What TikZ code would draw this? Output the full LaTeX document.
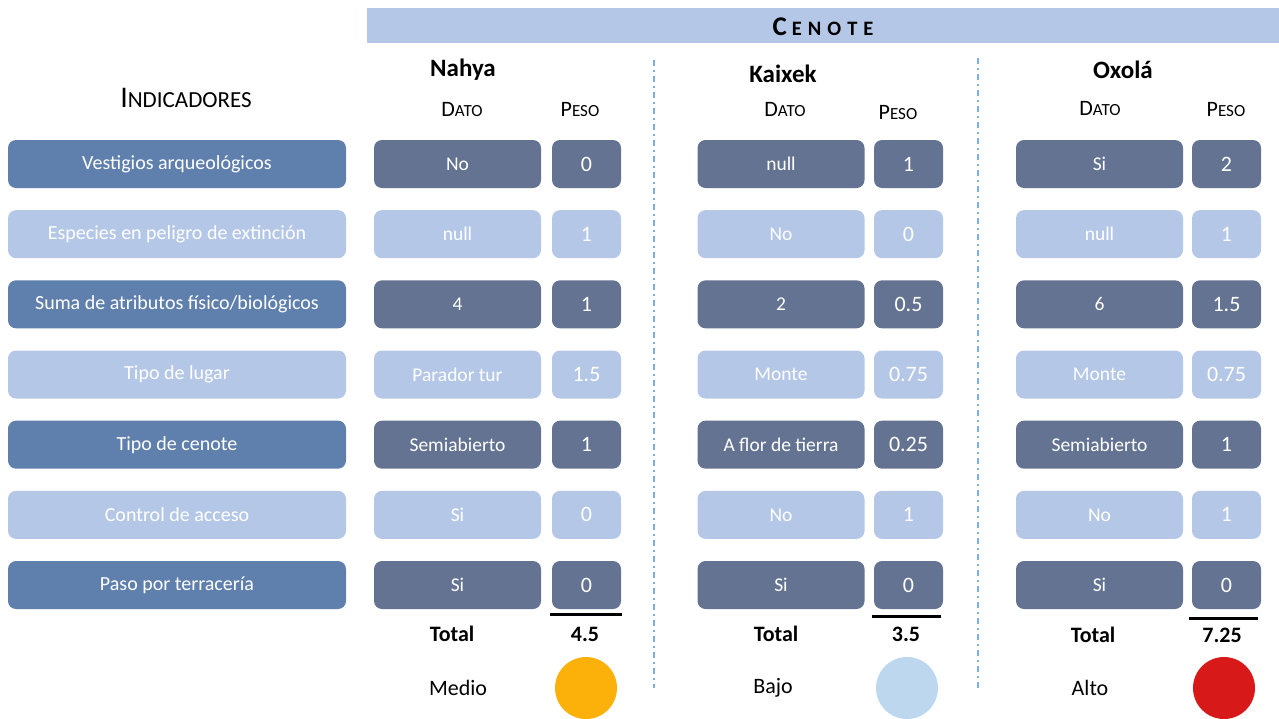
\documentclass[tikz,border=0pt]{standalone}
\usepackage{fontspec}
\setmainfont{Carlito}
\usetikzlibrary{calc}
\definecolor{inddark}{RGB}{95,127,173}
\definecolor{datdark}{RGB}{99,115,145}
\definecolor{lightbl}{RGB}{180,199,231}
\definecolor{sepblue}{RGB}{91,155,213}
\definecolor{cmedio}{RGB}{251,176,10}
\definecolor{cbajo}{RGB}{189,215,238}
\definecolor{calto}{RGB}{215,25,26}
\newcommand{\fs}[1]{\fontsize{#1}{#1}\selectfont}
\newcommand{\tabrow}[9]{%
  \pgfmathsetmacro\yy{164+70.17*(#1-1)}
  \node[indbox, fill=ind#2] (ind#1) at (177,\yy) {#3};
  \node[datbox, fill=dat#2] (na#1d) at (457.5,\yy) {#4};
  \node[pesbox, fill=dat#2] (na#1p) at (586.5,\yy) {#5};
  \node[datbox, fill=dat#2] (ka#1d) at (781,\yy) {#6};
  \node[pesbox, fill=dat#2] (ka#1p) at (908.5,\yy) {#7};
  \node[datbox, fill=dat#2] (ox#1d) at (1099.5,\yy) {#8};
  \node[pesbox, fill=dat#2] (ox#1p) at (1226.5,\yy) {#9};
}
\colorlet{inddk}{inddark}
\colorlet{indlt}{lightbl}
\colorlet{datdk}{datdark}
\colorlet{datlt}{lightbl}
\begin{document}
\begin{tikzpicture}[x=1pt,y=-1pt,
  box/.style={rounded corners=8pt, inner sep=0pt, minimum height=48pt, text=white, draw=none},
  indbox/.style={box, minimum width=338pt, font=\fs{20}},
  datbox/.style={box, minimum width=167pt, font=\fs{19.5}},
  pesbox/.style={box, minimum width=69pt, font=\fs{22}},
  hdr/.style={inner sep=0pt, font=\fs{22}},
  namelbl/.style={inner sep=0pt, font=\bfseries\fs{25}},
  totlbl/.style={inner sep=0pt, font=\bfseries\fs{22}},
  ratelbl/.style={inner sep=0pt, font=\fs{22}},
  sepline/.style={draw=sepblue!80, line width=1.1pt, dash pattern=on 6pt off 4pt on 2pt off 4pt},
  totline/.style={line width=2.6pt, black},
  dot/.style={circle, inner sep=0pt, minimum size=62pt, draw=none}
]
\useasboundingbox (0,0) rectangle (1279,718);
% header bar
\fill[lightbl] (367,8) rectangle (1279,43);
\node[inner sep=0pt, font=\bfseries\fs{27}] (cenote) at (823,27)
  {C\hspace{5pt}{\fs{20.5}E\hspace{6pt}N\hspace{6pt}O\hspace{6pt}T\hspace{6pt}E}};
% column headings
\node[hdr, font=\fs{30}] (indic) at (186,98) {I{\fs{23}NDICADORES}};
\node[namelbl] (nahya) at (463,70) {Nahya};
\node[namelbl] (kaixek) at (783,74) {Kaixek};
\node[namelbl] (oxola) at (1123,70) {Oxolá};
\node[hdr] (nadato) at (462,109) {D{\fs{17}ATO}};
\node[hdr] (napeso) at (580,109) {P{\fs{17}ESO}};
\node[hdr] (kadato) at (785,109) {D{\fs{17}ATO}};
\node[hdr] (kapeso) at (898,112) {P{\fs{17}ESO}};
\node[hdr] (oxdato) at (1100,108) {D{\fs{17}ATO}};
\node[hdr] (oxpeso) at (1226,109) {P{\fs{17}ESO}};
% separators
\coordinate (s1a) at (654,60); \coordinate (s1b) at (654,688);
\coordinate (s2a) at (978,58); \coordinate (s2b) at (978,690);
\draw[sepline] (s1a) -- (s1b);
\draw[sepline] (s2a) -- (s2b);
% rows
\tabrow{1}{dk}{Vestigios arqueológicos}{No}{0}{null}{1}{Si}{2}
\tabrow{2}{lt}{Especies en peligro de extinción}{null}{1}{No}{0}{null}{1}
\tabrow{3}{dk}{Suma de atributos físico/biológicos}{4}{1}{2}{0.5}{6}{1.5}
\tabrow{4}{lt}{Tipo de lugar}{Parador tur}{1.5}{Monte}{0.75}{Monte}{0.75}
\tabrow{5}{dk}{Tipo de cenote}{Semiabierto}{1}{A flor de tierra}{0.25}{Semiabierto}{1}
\tabrow{6}{lt}{Control de acceso}{Si}{0}{No}{1}{No}{1}
\tabrow{7}{dk}{Paso por terracería}{Si}{0}{Si}{0}{Si}{0}
% total lines
\draw[totline] ($(na7p.south west)+(-2,5)$) -- ($(na7p.south east)+(1,5)$);
\draw[totline] ($(ka7p.south west)+(-2,7)$) -- ($(ka7p.south east)+(-2,7)$);
\draw[totline] ($(ox7p.south west)+(-3,9)$) -- ($(ox7p.south east)+(-3,9)$);
% totals
\node[totlbl] (natot) at (452,634) {Total};
\node[totlbl] (naval) at (585,634) {4.5};
\node[totlbl] (katot) at (776,634) {Total};
\node[totlbl] (kaval) at (906,634) {3.5};
\node[totlbl] (oxtot) at (1093,635) {Total};
\node[totlbl] (oxval) at (1222,635) {7.25};
% ratings
\node[ratelbl] (narate) at (458,688) {Medio};
\node[ratelbl] (karate) at (773,688) {Bajo};
\node[ratelbl] (oxrate) at (1090,688) {Alto};
\node[dot, fill=cmedio] (nadot) at (586,688) {};
\node[dot, fill=cbajo] (kadot) at (907,688) {};
\node[dot, fill=calto] (oxdot) at (1224,688) {};
\end{tikzpicture}
\end{document}
